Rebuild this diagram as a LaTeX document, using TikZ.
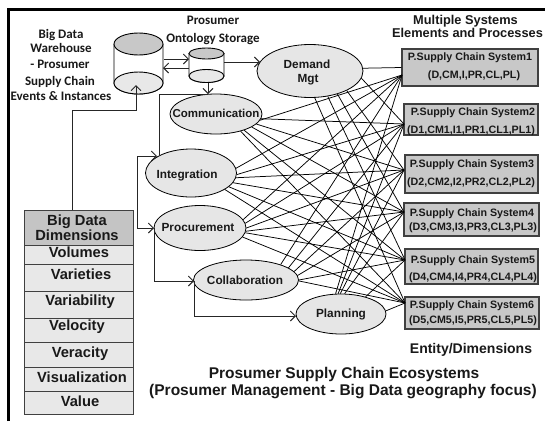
\documentclass[tikz,border=0pt]{standalone}
\usepackage{fontspec}
\setmainfont{Liberation Sans}
\newfontfamily\calib{Carlito}
\usetikzlibrary{shapes.geometric,arrows.meta}
\definecolor{ellfill}{HTML}{E6E6E6}
\definecolor{boxfill}{HTML}{C8C8C8}
\definecolor{hdrfill}{HTML}{C4C4C4}
\definecolor{rowfill}{HTML}{E8E8E8}
\definecolor{edgecol}{HTML}{404040}
\tikzset{
  x=1pt,y=-1pt,
  oval/.style={ellipse,draw=black,fill=ellfill,line width=0.8pt,inner sep=0pt},
  sysbox/.style={rectangle,draw=edgecol,fill=boxfill,line width=1.2pt,inner sep=0pt},
  dimrow/.style={rectangle,draw=edgecol,fill=rowfill,line width=0.8pt,inner sep=0pt},
  dimhead/.style={rectangle,draw=edgecol,fill=hdrfill,line width=0.8pt,inner sep=0pt},
  mesh/.style={line width=0.75pt,draw=black},
  flow/.style={line width=0.9pt,draw=black!85},
  flowar/.style={flow,-{Straight Barb[length=5pt,width=10pt]}},
  lbl/.style={font=\bfseries\fontsize{10.7}{12}\selectfont,inner sep=0pt,text=black!90},
  ovtxt/.style={font=\bfseries\fontsize{11.8}{13}\selectfont,inner sep=0pt,text=black!90},
  dimtxt/.style={font=\bfseries\fontsize{14.7}{16}\selectfont,inner sep=0pt,text=black!90},
  ttl/.style={font=\bfseries\fontsize{12.8}{15}\selectfont,inner sep=0pt,text=black!90},
  bigttl/.style={font=\bfseries\fontsize{15.5}{17}\selectfont,inner sep=0pt,text=black!90},
  callbl/.style={font=\calib\bfseries\fontsize{13}{14}\selectfont,inner sep=0pt,text=black!90},
}
\begin{document}
\begin{tikzpicture}
\useasboundingbox (0,0) rectangle (545,421);
\fill[white] (0,0) rectangle (545,421);
% frame
\draw[line width=3pt] (8,421) -- (8,9) -- (545,9);
% ovals
\node[oval,minimum width=106pt,minimum height=53pt] (dem) at (310,71) {};
\node[oval,minimum width=92pt,minimum height=40pt] (com) at (216,114) {};
\node[oval,minimum width=91pt,minimum height=48pt] (int) at (191,173) {};
\node[oval,minimum width=92pt,minimum height=45pt] (pro) at (200,228) {};
\node[oval,minimum width=105pt,minimum height=40pt] (col) at (246,280) {};
\node[oval,minimum width=90pt,minimum height=40pt] (pla) at (341,314) {};
% system boxes
\node[sysbox,minimum width=136pt,minimum height=37pt] (s1) at (470,67.5) {};
\node[sysbox,minimum width=134pt,minimum height=31pt] (s2) at (471,119.5) {};
\node[sysbox,minimum width=133pt,minimum height=38pt] (s3) at (471.5,174) {};
\node[sysbox,minimum width=135pt,minimum height=33pt] (s4) at (471.5,219.5) {};
\node[sysbox,minimum width=133pt,minimum height=35pt] (s5) at (471.5,266.5) {};
\node[sysbox,minimum width=134pt,minimum height=32pt] (s6) at (472,313) {};
% where the mesh meets the boxes
\coordinate (t1) at (402,75);
\coordinate (t2) at (404,124);
\coordinate (t3) at (404,170);
\coordinate (t4) at (404,212);
\coordinate (t5) at (405,260);
\coordinate (t6) at (405,303);
% mesh: source oval, border angle, target
\draw[mesh] (dem.3) -- (s1.west);
\foreach \a/\b/\t in {
  dem/-8/t2,dem/-28/t3,dem/-40/t4,dem/-55/t5,dem/-80/t6,
  com/-8/t1,com/-6/t2,com/-14/t3,com/-20/t4,com/-30/t5,com/-35/t6,
  int/6/t1,int/-2/t2,int/-6/t3,int/-13/t4,int/-20/t5,int/-26/t6,
  pro/11/t1,pro/6/t2,pro/0/t3,pro/-4/t4,pro/-6/t5,pro/-12/t6,
  col/24/t1,col/16/t2,col/10/t3,col/5/t4,col/0/t5,col/-1/t6,
  pla/105/t1,pla/98/t2,pla/92/t3,pla/80/t4,pla/35/t5,pla/4/t6}{
  \draw[mesh] (\a.\b) -- (\t);
}
% oval labels
\node[ovtxt] (tdem1) at (307,64) {Demand};
\node[ovtxt] (tdem2) at (308,80) {Mgt};
\node[ovtxt,font=\bfseries\fontsize{11.5}{13}\selectfont] (tcom) at (216,113) {Communication};
\node[ovtxt] (tint) at (187,175) {Integration};
\node[ovtxt] (tpro) at (198,227) {Procurement};
\node[ovtxt] (tcol) at (245,280) {Collaboration};
\node[ovtxt] (tpla) at (341,314) {Planning};
% system labels
\node[lbl] (a1) at (470,58) {P.Supply Chain System1};
\node[lbl] (b1) at (474,76) {(D,CM,I,PR,CL,PL)};
\node[lbl] (a2) at (473,113) {P.Supply Chain System2};
\node[lbl] (b2) at (471,131) {(D1,CM1,I1,PR1,CL1,PL1)};
\node[lbl] (a3) at (472,165) {P.Supply Chain System3};
\node[lbl] (b3) at (471,183) {(D2,CM2,I2,PR2,CL2,PL2)};
\node[lbl] (a4) at (472,214) {P.Supply Chain System4};
\node[lbl] (b4) at (473,228) {(D3,CM3,I3,PR3,CL3,PL3)};
\node[lbl] (a5) at (473,261) {P.Supply Chain System5};
\node[lbl] (b5) at (473,278) {(D4,CM4,I4,PR4,CL4,PL4)};
\node[lbl] (a6) at (472,306) {P.Supply Chain System6};
\node[lbl] (b6) at (473,321) {(D5,CM5,I5,PR5,CL5,PL5)};
% cylinders
\draw[line width=0.9pt,fill=white] (114,44) -- (114,83) arc[start angle=180,end angle=360,x radius=24.5pt,y radius=11pt] -- (163,44);
\draw[line width=0.9pt,fill=rowfill] (138.5,83) ellipse[x radius=24.5pt,y radius=11pt];
\draw[line width=0.9pt,fill=boxfill] (138.5,44) ellipse[x radius=24.5pt,y radius=11pt];
\draw[line width=0.9pt,fill=white] (189,53) -- (189,76) arc[start angle=180,end angle=360,x radius=17.5pt,y radius=6.5pt] -- (224,53);
\draw[line width=0.9pt,fill=rowfill] (206.5,76) ellipse[x radius=17.5pt,y radius=6.5pt];
\draw[line width=0.9pt,fill=boxfill] (206.5,53.5) ellipse[x radius=17.5pt,y radius=5.5pt];
% dimension table
\node[dimhead,minimum width=109pt,minimum height=35pt] (hd) at (78.5,227.5) {};
\node[dimrow,minimum width=109pt,minimum height=19pt] (r1) at (78.5,254.5) {};
\node[dimrow,minimum width=109pt,minimum height=27pt] (r2) at (78.5,277.5) {};
\node[dimrow,minimum width=109pt,minimum height=27pt] (r3) at (78.5,304.5) {};
\node[dimrow,minimum width=109pt,minimum height=24pt] (r4) at (78.5,330) {};
\node[dimrow,minimum width=109pt,minimum height=25pt] (r5) at (78.5,354.5) {};
\node[dimrow,minimum width=109pt,minimum height=24pt] (r6) at (78.5,379) {};
\node[dimrow,minimum width=109pt,minimum height=23pt] (r7) at (78.5,402.5) {};
\node[dimtxt] (t0a) at (77,222) {Big Data};
\node[dimtxt] (t0b) at (77,235) {Dimensions};
\node[dimtxt] (t1x) at (79,252) {Volumes};
\node[dimtxt] (t2x) at (81,274) {Varieties};
\node[dimtxt] (t3x) at (80,302) {Variability};
\node[dimtxt] (t4x) at (77,327) {Velocity};
\node[dimtxt] (t5x) at (80,354) {Veracity};
\node[dimtxt] (t6x) at (82,377) {Visualization};
\node[dimtxt] (t7x) at (80,401) {Value};
% free labels
\node[callbl] (w1) at (61,35) {Big Data};
\node[callbl] (w2) at (61,48) {Warehouse};
\node[callbl] (w3) at (60,64) {- Prosumer};
\node[callbl] (w4) at (60,82) {Supply Chain};
\node[callbl] (w5) at (61,96) {Events \& Instances};
\node[callbl] (o1) at (213,20) {Prosumer};
\node[callbl] (o2) at (213,39) {Ontology Storage};
\node[ttl] (m1) at (465.5,21) {Multiple Systems};
\node[ttl] (m2) at (467.5,33) {Elements and Processes};
\node[ttl,font=\bfseries\fontsize{14}{15}\selectfont] (e1) at (471,350) {Entity/Dimensions};
\node[bigttl] (f1) at (344,374) {Prosumer Supply Chain Ecosystems};
\node[bigttl] (f2) at (343,392) {(Prosumer Management - Big Data geography focus)};
% flow connectors
\coordinate (c1) at (164,59); \coordinate (c2) at (189,59);
\coordinate (c3) at (189,68); \coordinate (c4) at (163,68);
\coordinate (c5) at (224,62); \coordinate (c6) at (260,62);
\coordinate (c7) at (208,83); \coordinate (c8) at (208,94);
\coordinate (c9) at (159,94); \coordinate (c10) at (159,155);
\coordinate (d1) at (137,156); \coordinate (d2) at (157,156);
\coordinate (d3) at (137,228); \coordinate (d4) at (154,228);
\coordinate (d5) at (154,281); \coordinate (d6) at (194,281);
\coordinate (d7) at (194,316); \coordinate (d8) at (296,316);
\coordinate (d9) at (72,210); \coordinate (d10) at (72,110);
\coordinate (d11) at (136,110); \coordinate (d12) at (136,85);
\draw[flowar] (c1) -- (c2);
\draw[flowar] (c3) -- (c4);
\draw[flowar] (c5) -- (c6);
\draw[flowar] (c7) -- (c8);
\draw[flow] (c8) -- (c9) -- (c10);
\draw[flowar] (d3) -- (d1) -- (d2);
\draw[flowar] (d3) -- (d4);
\draw[flowar] (d4) -- (d5) -- (d6);
\draw[flowar] (d6) -- (d7) -- (d8);
\draw[flowar] (d9) -- (d10) -- (d11) -- (d12);
\end{tikzpicture}
\end{document}
